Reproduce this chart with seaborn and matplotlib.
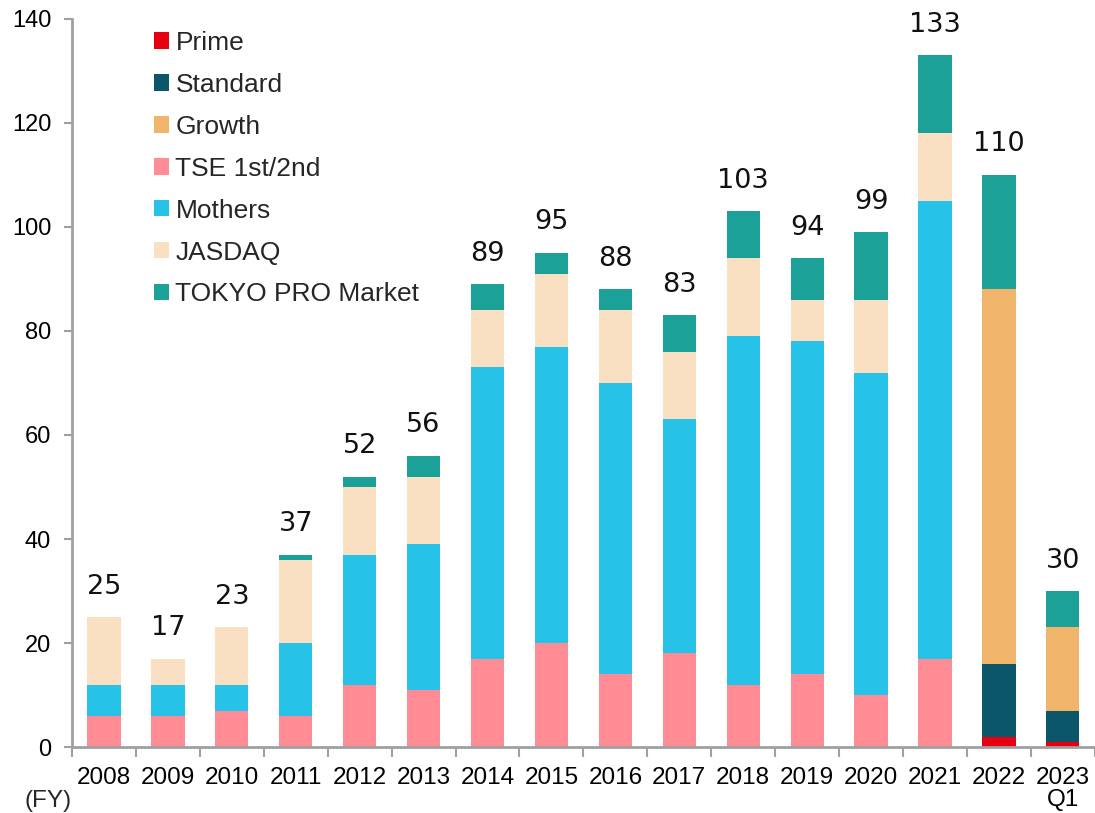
import numpy as np
import pandas as pd
import matplotlib
matplotlib.use("Agg")
import matplotlib.pyplot as plt
from matplotlib.patches import Patch
import seaborn as sns

years = ["2008", "2009", "2010", "2011", "2012", "2013", "2014", "2015",
         "2016", "2017", "2018", "2019", "2020", "2021", "2022", "2023\nQ1"]
prime    = [0, 0, 0, 0, 0, 0, 0, 0, 0, 0, 0, 0, 0, 0, 2, 1]
standard = [0, 0, 0, 0, 0, 0, 0, 0, 0, 0, 0, 0, 0, 0, 14, 6]
growth   = [0, 0, 0, 0, 0, 0, 0, 0, 0, 0, 0, 0, 0, 0, 72, 16]
tse      = [6, 6, 7, 6, 12, 11, 17, 20, 14, 18, 12, 14, 10, 17, 0, 0]
mothers  = [6, 6, 5, 14, 25, 28, 56, 57, 56, 45, 67, 64, 62, 88, 0, 0]
jasdaq   = [13, 5, 11, 16, 13, 13, 11, 14, 14, 13, 15, 8, 14, 13, 0, 0]
pro      = [0, 0, 0, 1, 2, 4, 5, 4, 4, 7, 9, 8, 13, 15, 22, 7]

series_names = ["Prime", "Standard", "Growth", "TSE 1st/2nd", "Mothers", "JASDAQ", "TOKYO PRO Market"]
series_vals = [prime, standard, growth, tse, mothers, jasdaq, pro]
colors = ["#E60012", "#0B5669", "#F0B46B", "#FF8C94", "#27C2E8", "#F9E0C3", "#1BA197"]

df = pd.DataFrame({n: v for n, v in zip(series_names, series_vals)})
df["year"] = years
cum = df[series_names].cumsum(axis=1)
totals = cum[series_names[-1]].values

fig = plt.figure(figsize=(10.95, 8.13), dpi=100)
ax = fig.add_axes([0.0658, 0.081, 0.934, 0.896])
sns.set_style("white")
plt.rcParams["font.family"] = ["Liberation Sans", "DejaVu Sans"]

for name, col in reversed(list(zip(series_names, colors))):
    sns.barplot(x=df["year"], y=cum[name], order=years, color=col, width=0.52,
                saturation=1, ax=ax, linewidth=0, edgecolor="none")

for i, t in enumerate(totals):
    ax.annotate(str(int(t)), xy=(i, t), xytext=(0, 12.5), textcoords="offset points",
                ha="center", va="bottom", fontsize=19.5, family="DejaVu Sans", color="#111111")

ax.set_xlim(-0.5, 15.5)
ax.set_ylim(0, 140)
ax.set_yticks(np.arange(0, 141, 20))
ax.set_xticks(range(len(years)))
ax.set_xticklabels(years, fontsize=17.5, family="Liberation Sans", linespacing=1.05)
ax.set_xticks(np.arange(-0.5, 16, 1), minor=True)
ax.tick_params(axis="x", which="major", length=0, pad=14)
ax.tick_params(axis="x", which="minor", length=7, width=1.5, color="#A0A0A0", direction="out")
ax.tick_params(axis="y", length=6, width=1.5, color="#A0A0A0", direction="out", labelsize=17, pad=9)
for lab in ax.get_yticklabels():
    lab.set_family("Liberation Sans")
ax.set_xlabel("")
ax.set_ylabel("")
for s in ["top", "right"]:
    ax.spines[s].set_visible(False)
for s in ["left", "bottom"]:
    ax.spines[s].set_color("#A0A0A0")
    ax.spines[s].set_linewidth(2)

handles = [Patch(facecolor=c, edgecolor="none") for c in colors]
leg = ax.legend(handles, series_names, loc="upper left", bbox_to_anchor=(0.057, 1.016),
                frameon=False, prop={"family": "Liberation Sans", "size": 19},
                handlelength=0.58, handleheight=0.58, handletextpad=0.23, labelspacing=0.68)

fig.text(48 / 1095, 1 - 801 / 813, "(FY)", ha="center", va="center",
         fontsize=17.5, family="Liberation Sans")

fig.savefig("out.png", dpi=100)
